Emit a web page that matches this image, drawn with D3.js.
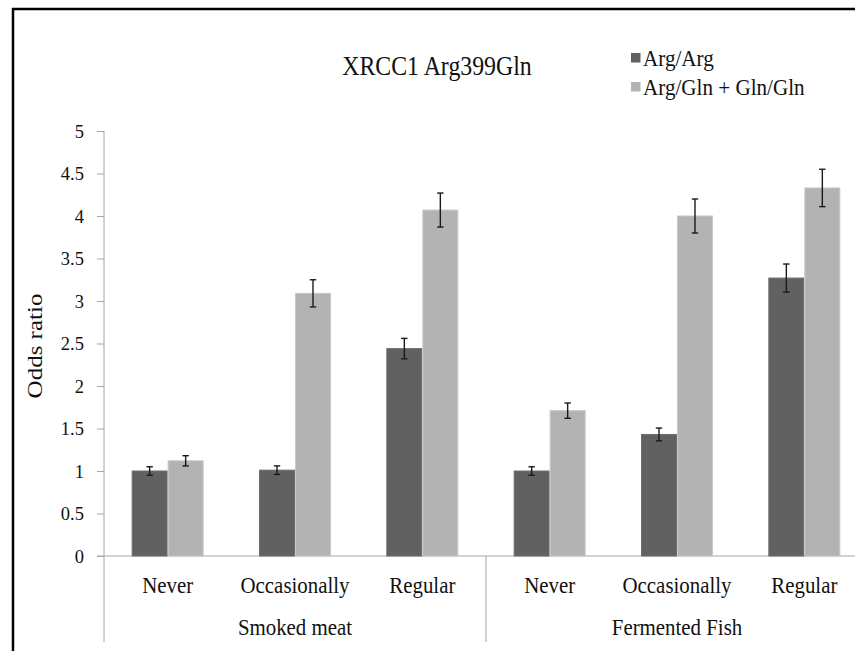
<!DOCTYPE html>
<html>
<head>
<meta charset="utf-8">
<script src="https://cdn.jsdelivr.net/npm/d3@7"></script>
<style>
  html, body { margin: 0; padding: 0; background: #fff; }
  svg { display: block; }
  svg text { font-family: "Liberation Serif", "Times New Roman", serif !important; fill: #111; }
</style>
</head>
<body>
<div id="chart"></div>
<script>
// Odds ratios by exposure level and XRCC1 genotype
const categories = ["Never", "Occasionally", "Regular", "Never", "Occasionally", "Regular"];
const groups = ["Smoked meat", "Fermented Fish"];
const seriesNames = ["Arg/Arg", "Arg/Gln + Gln/Gln"];
const argArg = [1.00, 1.01, 2.44, 1.00, 1.43, 3.27];
const argArgErr = [0.05, 0.05, 0.12, 0.05, 0.075, 0.165];
const glnCarrier = [1.12, 3.09, 4.07, 1.71, 4.00, 4.33];
const glnCarrierErr = [0.06, 0.16, 0.20, 0.09, 0.20, 0.22];
const yTicks = [0, 0.5, 1, 1.5, 2, 2.5, 3, 3.5, 4, 4.5, 5];

const W = 855, H = 651;
const serif = "'Liberation Serif', 'Times New Roman', serif";
const colors = ["#616161", "#b3b3b3"];
const edges = ["#6e6e6e", "#c8c8c8"];
const axisColor = "#a6a6a6";

const svg = d3.select("#chart").append("svg")
  .attr("width", W).attr("height", H);

svg.append("rect").attr("width", W).attr("height", H).attr("fill", "#fff");

// frame: top and left rules
svg.append("line").attr("x1", 12).attr("x2", W).attr("y1", 9).attr("y2", 9)
  .attr("stroke", "#000").attr("stroke-width", 2.5);
svg.append("line").attr("x1", 13).attr("x2", 13).attr("y1", 8).attr("y2", H)
  .attr("stroke", "#000").attr("stroke-width", 2.5);

const plotLeft = 104, plotRight = 868, plotTop = 131, plotBottom = 556, catBottom = 642;

const y = d3.scaleLinear().domain([0, 5]).range([plotBottom, plotTop]);
const p = 1 - 72 / ((plotRight - plotLeft) / categories.length);
const x = d3.scaleBand().domain(d3.range(categories.length))
  .range([plotLeft, plotRight]).paddingInner(p).paddingOuter(p / 2);
const xs = d3.scaleBand().domain([0, 1]).range([0, x.bandwidth()]);

// helper: serif text with slight condensing
function label(g, str, tx, ty, size, sx, anchor, rotate, sy) {
  const t = g.append("g")
    .attr("transform", `translate(${tx},${ty})` + (rotate ? ` rotate(${rotate})` : "") + ` scale(${sx},${sy || 1})`);
  t.append("text")
    .attr("font-family", serif)
    .attr("font-size", size)
    .attr("text-anchor", anchor || "middle")
    .text(str);
  return t;
}

// y axis
const yAxis = d3.axisLeft(y).tickValues(yTicks).tickSize(7).tickPadding(0).tickFormat(() => "");
const ga = svg.append("g").attr("transform", `translate(${plotLeft},0)`).call(yAxis);
ga.select(".domain").remove();
ga.selectAll(".tick line").attr("stroke", axisColor);
svg.append("line").attr("x1", plotLeft).attr("x2", plotLeft).attr("y1", plotTop).attr("y2", catBottom)
  .attr("stroke", axisColor).attr("stroke-width", 1);

const tickG = svg.append("g");
yTicks.forEach(v => label(tickG, String(v), 84, y(v) + 6.5, 19.5, 0.95, "end"));

// x baseline and group separator
svg.append("line").attr("x1", plotLeft - 7).attr("x2", W).attr("y1", plotBottom).attr("y2", plotBottom)
  .attr("stroke", axisColor).attr("stroke-width", 1);
const sepX = (x(2) + x.bandwidth() + x(3)) / 2;
svg.append("line").attr("x1", sepX).attr("x2", sepX).attr("y1", plotBottom).attr("y2", catBottom)
  .attr("stroke", axisColor).attr("stroke-width", 1);

// bars
const series = [
  { vals: argArg, errs: argArgErr },
  { vals: glnCarrier, errs: glnCarrierErr }
];
const barG = svg.append("g");
series.forEach((s, si) => {
  barG.selectAll(null).data(s.vals).enter().append("rect")
    .attr("x", (d, i) => x(i) + xs(si) + 0.5)
    .attr("y", d => y(d))
    .attr("width", xs.bandwidth() - 1)
    .attr("height", d => plotBottom - y(d))
    .attr("fill", colors[si])
    .attr("stroke", edges[si]).attr("stroke-width", 1);
});

// error bars
const errG = svg.append("g").attr("stroke", "#1a1a1a").attr("stroke-width", 1.4);
series.forEach((s, si) => {
  s.vals.forEach((v, i) => {
    const cx = x(i) + xs(si) + xs.bandwidth() / 2;
    const lo = y(v - s.errs[i]), hi = y(v + s.errs[i]);
    errG.append("line").attr("x1", cx).attr("x2", cx).attr("y1", hi).attr("y2", lo);
    errG.append("line").attr("x1", cx - 3.2).attr("x2", cx + 3.2).attr("y1", hi).attr("y2", hi);
    errG.append("line").attr("x1", cx - 3.2).attr("x2", cx + 3.2).attr("y1", lo).attr("y2", lo);
  });
});

// category and group labels
const catG = svg.append("g");
categories.forEach((c, i) => label(catG, c, x(i) + x.bandwidth() / 2, 593, 24, 0.87));
groups.forEach((g, gi) => {
  const cx = (x(gi * 3) + x(gi * 3 + 2) + x.bandwidth()) / 2;
  label(catG, g, cx, 635, 24, 0.87);
});

// y axis title
label(svg, "Odds ratio", 42, 346, 25, 1, "middle", -90, 0.86);

// chart title
label(svg, "XRCC1 Arg399Gln", 437, 75, 26.5, 0.9);

// legend
const legG = svg.append("g");
seriesNames.forEach((n, i) => {
  const ly = 53 + i * 29;
  legG.append("rect").attr("x", 631).attr("y", ly).attr("width", 9.5).attr("height", 9.5).attr("fill", colors[i]);
  label(legG, n, 643, ly + 13, 24, 0.88, "start");
});
</script>
</body>
</html>
